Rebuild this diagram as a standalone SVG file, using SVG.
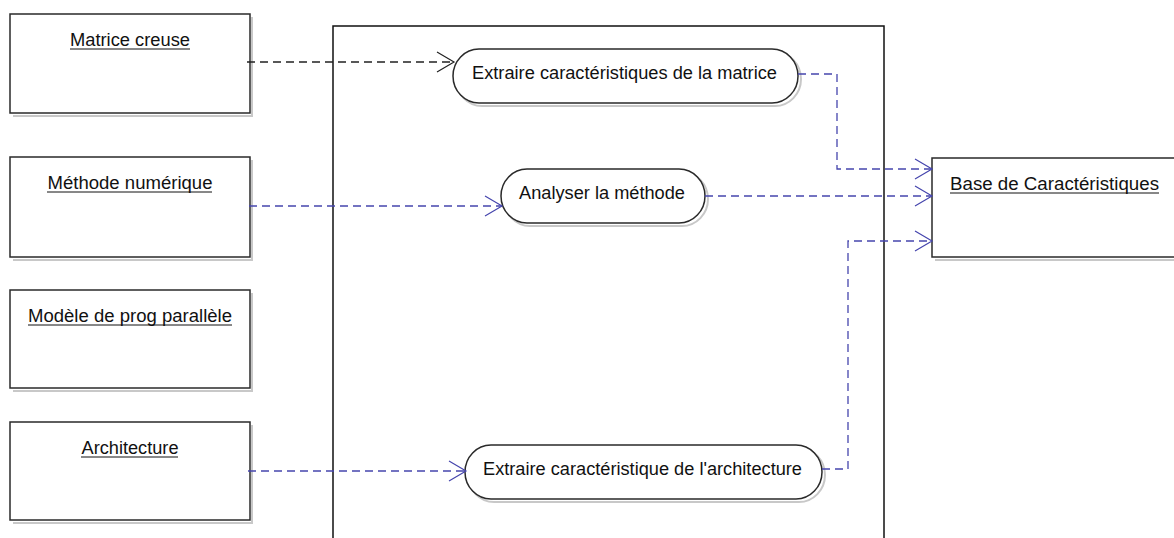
<svg xmlns="http://www.w3.org/2000/svg" width="1174" height="538" viewBox="0 0 1174 538">
<style>
.box{fill:#fff;stroke:#2a2a2a;stroke-width:1.5}
.shadow{fill:none;stroke:#c8c8c8;stroke-width:2}
.uc{fill:#fff;stroke:#2a2a2a;stroke-width:1.5}
.lbl{font-family:"Liberation Sans",Arial,sans-serif;font-size:17.5px;fill:#111;text-anchor:middle}
.ul{stroke:#111;stroke-width:1}
.sys{fill:#fff;stroke:#111;stroke-width:1.5}
.dep{fill:none;stroke:#4545ad;stroke-width:1.3;stroke-dasharray:8,5}
.depk{fill:none;stroke:#222;stroke-width:1.3;stroke-dasharray:8,5}
</style>
<defs>
<marker id="openB" viewBox="0 0 20 22" refX="18" refY="11" markerWidth="20" markerHeight="22" markerUnits="userSpaceOnUse" orient="auto">
<path d="M1,1 L18,11 L1,21" fill="none" stroke="#4545ad" stroke-width="1.2"/>
</marker>
<marker id="openK" viewBox="0 0 20 22" refX="18" refY="11" markerWidth="20" markerHeight="22" markerUnits="userSpaceOnUse" orient="auto">
<path d="M1,1 L18,11 L1,21" fill="none" stroke="#222" stroke-width="1.2"/>
</marker>
</defs>
<rect width="1174" height="538" fill="#fff"/>
<g id="system">
<rect class="sys" x="333" y="26" width="551" height="530"/>
</g>
<g id="n-matrice">
<path class="shadow" d="M252,17 V116 H13"/>
<rect class="box" x="10" y="14" width="240" height="99"/>
<text class="lbl" x="130" y="46" textLength="120" lengthAdjust="spacingAndGlyphs">Matrice creuse</text>
<line class="ul" x1="70" y1="49" x2="190" y2="49"/>
</g>
<g id="n-methode">
<path class="shadow" d="M252,160 V260 H13"/>
<rect class="box" x="10" y="157" width="240" height="100"/>
<text class="lbl" x="130" y="189" textLength="165" lengthAdjust="spacingAndGlyphs">Méthode numérique</text>
<line class="ul" x1="47" y1="192" x2="212" y2="192"/>
</g>
<g id="n-modele">
<path class="shadow" d="M252,293 V391 H13"/>
<rect class="box" x="10" y="290" width="240" height="98"/>
<text class="lbl" x="130" y="322" textLength="204" lengthAdjust="spacingAndGlyphs">Modèle de prog parallèle</text>
<line class="ul" x1="28" y1="325" x2="232" y2="325"/>
</g>
<g id="n-architecture">
<path class="shadow" d="M252,425 V523 H13"/>
<rect class="box" x="10" y="422" width="240" height="98"/>
<text class="lbl" x="130" y="454" textLength="97" lengthAdjust="spacingAndGlyphs">Architecture</text>
<line class="ul" x1="81" y1="457" x2="178" y2="457"/>
</g>
<g id="n-base">
<path class="shadow" d="M935,260 H1176"/>
<rect class="box" x="932" y="158" width="244" height="99"/>
<text class="lbl" x="1054.5" y="190" textLength="209" lengthAdjust="spacingAndGlyphs">Base de Caractéristiques</text>
<line class="ul" x1="950" y1="193" x2="1159" y2="193"/>
</g>
<g id="uc-matrice">
<rect class="shadow" x="456" y="52" width="345" height="54" rx="26" ry="27"/>
<rect class="uc" x="453" y="49" width="345" height="54" rx="26" ry="27"/>
<text class="lbl" x="624.5" y="79" textLength="305" lengthAdjust="spacingAndGlyphs">Extraire caractéristiques de la matrice</text>
</g>
<g id="uc-methode">
<rect class="shadow" x="504" y="172" width="204" height="54" rx="26" ry="27"/>
<rect class="uc" x="501" y="169" width="204" height="54" rx="26" ry="27"/>
<text class="lbl" x="602" y="199" textLength="166" lengthAdjust="spacingAndGlyphs">Analyser la méthode</text>
</g>
<g id="uc-architecture">
<rect class="shadow" x="468" y="448" width="357" height="54" rx="26" ry="27"/>
<rect class="uc" x="465" y="445" width="357" height="54" rx="26" ry="27"/>
<text class="lbl" x="642.5" y="475" textLength="319" lengthAdjust="spacingAndGlyphs">Extraire caractéristique de l'architecture</text>
</g>
<g id="connectors">
<path class="depk" d="M247,62 H454" marker-end="url(#openK)"/>
<path class="dep" d="M249,206 H502" marker-end="url(#openB)"/>
<path class="dep" d="M248,471 H466" marker-end="url(#openB)"/>
<path class="dep" d="M798,74 H837 V169 H932" marker-end="url(#openB)"/>
<path class="dep" d="M705,196 H932" marker-end="url(#openB)"/>
<path class="dep" d="M822,469 H848 V241 H932" marker-end="url(#openB)"/>
</g>
</svg>
